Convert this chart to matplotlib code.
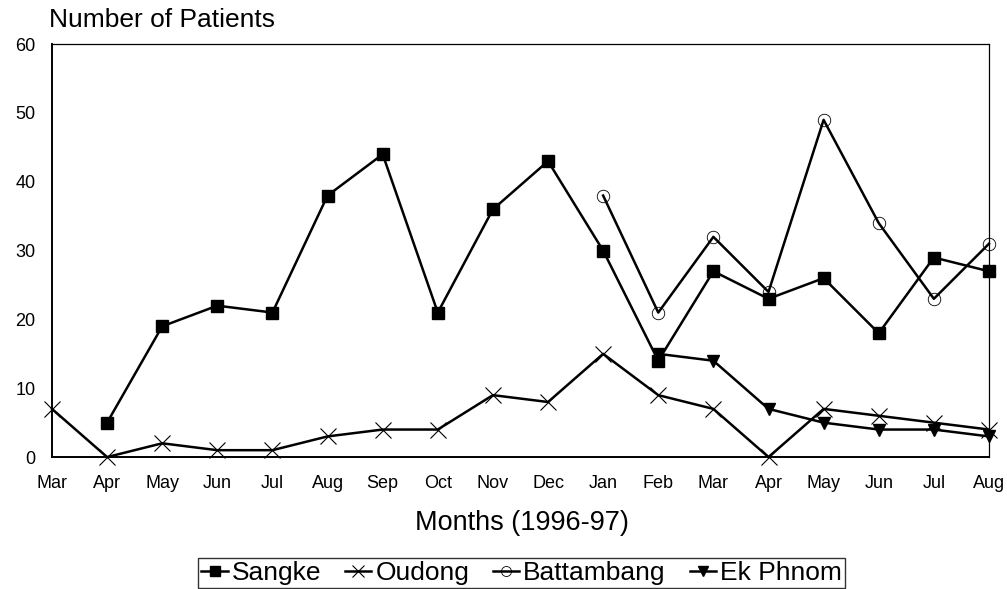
import numpy as np
import matplotlib
matplotlib.use('Agg')
import matplotlib.pyplot as plt

plt.rcParams['font.family'] = ['Liberation Sans', 'DejaVu Sans']

nan = np.nan
months = ['Mar', 'Apr', 'May', 'Jun', 'Jul', 'Aug', 'Sep', 'Oct', 'Nov', 'Dec',
          'Jan', 'Feb', 'Mar', 'Apr', 'May', 'Jun', 'Jul', 'Aug']
sangke = [nan, 5, 19, 22, 21, 38, 44, 21, 36, 43, 30, 14, 27, 23, 26, 18, 29, 27]
oudong = [7, 0, 2, 1, 1, 3, 4, 4, 9, 8, 15, 9, 7, 0, 7, 6, 5, 4]
battambang = [nan, nan, nan, nan, nan, nan, nan, nan, nan, nan,
              38, 21, 32, 24, 49, 34, 23, 31]
ek_phnom = [nan, nan, nan, nan, nan, nan, nan, nan, nan, nan,
            nan, 15, 14, 7, 5, 4, 4, 3]

x = np.arange(len(months))

fig = plt.figure(figsize=(10.07, 5.89), dpi=100)
ax = fig.add_axes([0.0516, 0.224, 0.9305, 0.701])

ax.plot(x, sangke, color='black', lw=1.8, marker='s', ms=9, clip_on=False, label='Sangke')
ax.plot(x, oudong, color='black', lw=1.8, marker='x', ms=11, mew=0.8, clip_on=False, label='Oudong')
ax.plot(x, battambang, color='black', lw=1.8, marker='o', ms=9, mfc='none', mew=0.6,
        clip_on=False, label='Battambang')
ax.plot(x, ek_phnom, color='black', lw=1.8, marker='v', ms=9, clip_on=False, label='Ek Phnom')

ax.set_xlim(0, len(months) - 1)
ax.set_ylim(0, 60)
ax.set_xticks(x)
ax.set_xticklabels(months)
ax.set_yticks(range(0, 61, 10))
ax.tick_params(axis='both', length=0, labelsize=13)
ax.tick_params(axis='y', pad=12)
ax.tick_params(axis='x', pad=13)
for side in ['left', 'bottom']:
    ax.spines[side].set_linewidth(1.4)
for side in ['top', 'right']:
    ax.spines[side].set_linewidth(0.9)

fig.text(0.049, 0.966, 'Number of Patients', fontsize=19, va='center', ha='left')
fig.text(0.518, 0.112, 'Months (1996-97)', fontsize=19.5, va='center', ha='center')

leg = fig.legend(loc='lower center', bbox_to_anchor=(0.518, 0.0), ncol=4, fontsize=19,
                 frameon=True, fancybox=False, edgecolor='black', handlelength=1.0,
                 handletextpad=0.15, columnspacing=0.9, borderpad=0.12, borderaxespad=0.02,
                 markerscale=0.8)
leg.get_frame().set_linewidth(1.0)

fig.savefig('out.png', dpi=100)
